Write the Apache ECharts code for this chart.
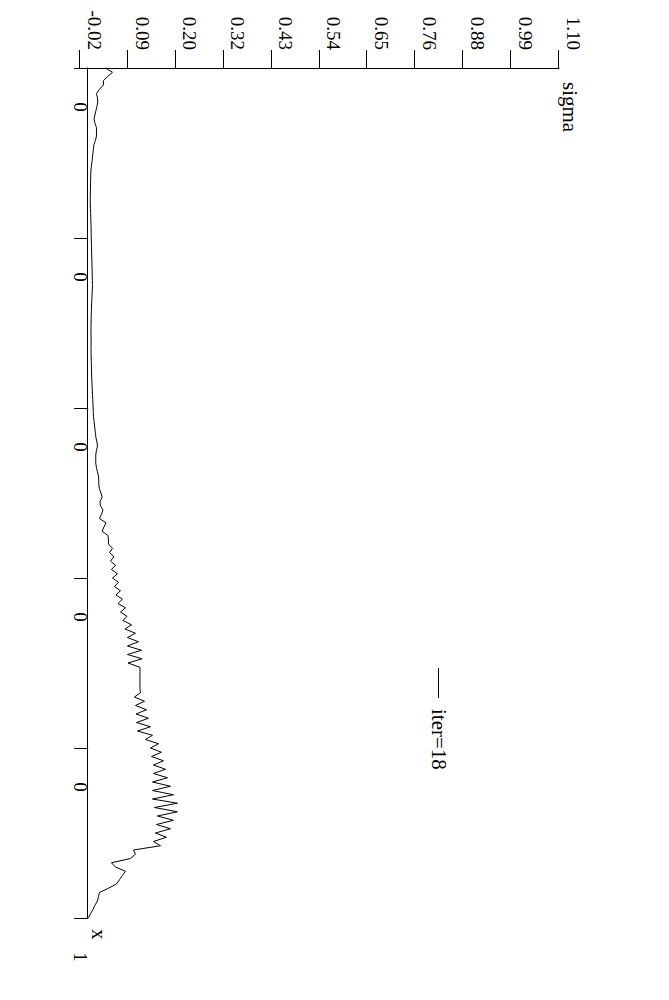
<!DOCTYPE html>
<html>
<head><meta charset="utf-8"></head>
<script type="text/javascript" src="https://cdn.jsdelivr.net/npm/echarts@6.0.0/dist/echarts.min.js"></script>
<body style="margin:0;width:669px;height:1000px;overflow:hidden;background-color:white;">

    <!-- the chart is laid out in landscape and turned a quarter turn clockwise -->
    <div id="main" style="position:absolute;left:0;top:0;width:1000px;height:669px;transform-origin:0 0;transform:translateX(669px) rotate(90deg);"></div>

</body>

<script>
// x runs 0..5, sampled every xStep
var xStep = 0.025
var xTickLabels = ['0', '0', '0', '0', '0', '1']

// sigma axis ticks
var sigmaTicks = [-0.02, 0.092, 0.204, 0.316, 0.428, 0.54, 0.652, 0.764, 0.876, 0.988, 1.10]
var sigmaTickLabels = ['-0.02', '0.09', '0.20', '0.32', '0.43', '0.54', '0.65', '0.76', '0.88', '0.99', '1.10']

// sigma values, iter=18
var sigmaHead = [
    0.0404, 0.0568, 0.0451, 0.0357, 0.0357, 0.0264, 0.0194, 0.0217, 0.0224, 0.0206,
    0.0182, 0.0159, 0.0136, 0.0159, 0.0194, 0.0194, 0.0194, 0.0171, 0.0136, 0.0124,
    0.0112, 0.0100, 0.0089, 0.0077, 0.0065, 0.0061, 0.0058, 0.0056, 0.0054, 0.0052,
    0.0050, 0.0048, 0.0050, 0.0052, 0.0057, 0.0061, 0.0064, 0.0067, 0.0069, 0.0071,
    0.0073, 0.0076, 0.0078, 0.0080, 0.0083, 0.0086, 0.0088, 0.0091, 0.0093, 0.0096,
    0.0098, 0.0100, 0.0098, 0.0093, 0.0088, 0.0083, 0.0078, 0.0076, 0.0073, 0.0070,
    0.0068, 0.0066, 0.0066, 0.0068, 0.0070, 0.0068, 0.0066, 0.0068, 0.0070, 0.0073,
    0.0076, 0.0078, 0.0080, 0.0083, 0.0088, 0.0093, 0.0098, 0.0100, 0.0107, 0.0112,
    0.0117, 0.0119, 0.0124, 0.0136, 0.0147, 0.0159, 0.0171, 0.0182, 0.0206, 0.0217,
    0.0194, 0.0178, 0.0178, 0.0178, 0.0194, 0.0217, 0.0241, 0.0248, 0.0248, 0.0264,
    0.0299, 0.0327, 0.0276, 0.0287, 0.0346, 0.0311, 0.0264, 0.0416, 0.0369, 0.0327,
    0.0463, 0.0474
]
var sigmaZigzag = [
    0.0474, 0.0568, 0.0498, 0.0603, 0.0521, 0.0638, 0.0544, 0.0685, 0.0568, 0.0708,
    0.0614, 0.0755, 0.0650, 0.0801, 0.0696, 0.0871, 0.0755, 0.0908, 0.0813, 0.1012,
    0.0860, 0.1105, 0.0918, 0.1175, 0.0918, 0.1245, 0.0918, 0.1257, 0.0930, 0.1210,
    0.1210, 0.1210, 0.1210, 0.1210, 0.1210, 0.1222, 0.1082, 0.1315, 0.1105, 0.1362,
    0.1117, 0.1409, 0.1129, 0.1456, 0.1152, 0.1502, 0.1339, 0.1643, 0.1456, 0.1713,
    0.1479, 0.1759, 0.1526, 0.1806, 0.1526, 0.1853, 0.1502, 0.1923, 0.1502, 0.1993,
    0.1502, 0.2086, 0.1549, 0.2086, 0.1619, 0.1993, 0.1596, 0.1923, 0.1572, 0.1829,
    0.1526, 0.1689
]
var sigmaTail = [
    0.1058, 0.1105, 0.0988, 0.0544, 0.0638, 0.0871, 0.0801, 0.0731, 0.0661, 0.0474,
    0.0264, 0.0241, 0.0217, 0.0159, 0.0112, 0.0054, 0.0007
]

var sigma = sigmaHead.concat(sigmaZigzag, sigmaTail)
var lineData = sigma.map(function(v, i){ return [i * xStep, v] })

var font = 'Liberation Serif'
var black = '#000'

var myChart = echarts.init(document.getElementById('main'), null, {renderer: 'svg'})

var option = {
    animation: false,
    backgroundColor: '#fff',
    legend: {
        data: [{name: 'iter=18', icon: 'rect'}],
        left: 663,
        top: 215,
        itemWidth: 30,
        itemHeight: 1,
        itemGap: 0,
        itemStyle: {color: black, borderWidth: 0},
        textStyle: {fontFamily: font, fontSize: 21, color: black, padding: [0, 0, 0, 6]}
    },
    grid: [
        // plot area
        {left: 68, right: 82, top: 110, bottom: 79.6},
        // same area shifted, only used for the x labels
        {left: 107, right: 43, top: 110, bottom: 79.6}
    ],
    xAxis: [{
        type: 'value',
        gridIndex: 0,
        min: 0,
        max: 5,
        interval: 1,
        axisLine: {onZero: true, lineStyle: {color: black, width: 1}},
        axisTick: {length: 14, lineStyle: {color: black, width: 1}},
        axisLabel: {show: false},
        splitLine: {show: false},
        name: 'x',
        nameLocation: 'end',
        nameGap: 11,
        nameTextStyle: {fontFamily: font, fontSize: 21, color: black, align: 'left', verticalAlign: 'bottom'}
    }, {
        type: 'value',
        gridIndex: 1,
        min: 0,
        max: 5,
        interval: 1,
        axisLine: {show: false, onZero: true},
        axisTick: {show: false},
        splitLine: {show: false},
        axisLabel: {
            margin: -10,
            fontFamily: font,
            fontSize: 19,
            color: black,
            formatter: function(v){ return xTickLabels[Math.round(v)] }
        }
    }],
    yAxis: [{
        type: 'value',
        gridIndex: 0,
        min: -0.02,
        max: 1.10,
        axisLine: {show: true, onZero: false, lineStyle: {color: black, width: 1}},
        axisTick: {length: 18, customValues: sigmaTicks, lineStyle: {color: black, width: 1}},
        axisLabel: {
            customValues: sigmaTicks,
            margin: 18,
            verticalAlign: 'bottom',
            padding: [0, 0, 5, 0],
            fontFamily: font,
            fontSize: 19,
            color: black,
            formatter: function(v){
                for (var k = 0; k < sigmaTicks.length; k++) {
                    if (Math.abs(sigmaTicks[k] - v) < 1e-6) return sigmaTickLabels[k]
                }
                return ''
            }
        },
        splitLine: {show: false},
        name: 'sigma',
        nameLocation: 'end',
        nameGap: 11,
        nameTextStyle: {fontFamily: font, fontSize: 21, color: black, align: 'left', verticalAlign: 'middle', padding: [0, 0, 0, 14]}
    }, {
        type: 'value',
        gridIndex: 1,
        min: -0.02,
        max: 1.10,
        show: false
    }],
    series: [{
        name: 'iter=18',
        type: 'line',
        xAxisIndex: 0,
        yAxisIndex: 0,
        symbol: 'none',
        color: black,
        lineStyle: {color: black, width: 1},
        data: lineData
    }]
}

option && myChart.setOption(option);
</script>

</html>
